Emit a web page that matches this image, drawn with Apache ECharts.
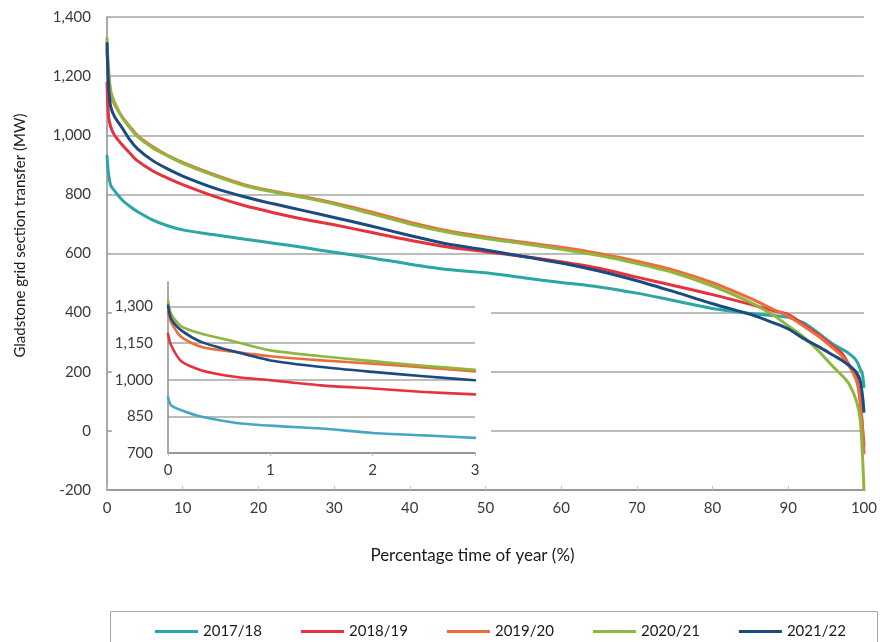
<!DOCTYPE html>
<html>
<head>
<meta charset="utf-8">
<script src="https://cdn.jsdelivr.net/npm/echarts@6/dist/echarts.min.js"></script>
<style>
html,body{margin:0;padding:0;background:#fff;}
#chart{width:880px;height:642px;}
</style>
</head>
<body>
<div id="chart"></div>
<script>
// ---- Data ----
const seriesNames = ['2017/18', '2018/19', '2019/20', '2020/21', '2021/22'];
const xTicksMain = [0, 10, 20, 30, 40, 50, 60, 70, 80, 90, 100];
const yTicksMain = [-200, 0, 200, 400, 600, 800, 1000, 1200, 1400];
const yTicksInset = [700, 850, 1000, 1150, 1300];
const xTicksInset = [0, 1, 2, 3];

// Main chart: percentage time of year (x) vs MW
const pctMain = [0, 0.2, 0.5, 1, 2, 3, 4, 6, 8, 10, 14, 18, 22, 26, 30, 35, 40, 45, 50, 55, 60, 65, 70, 75, 80, 85, 88, 90, 92, 94, 96, 97, 98, 99, 99.5, 99.8, 100];
const main2017 = [930, 870, 830, 812, 781, 760, 742, 714, 694, 680, 664, 649, 635, 620, 604, 585, 564, 546, 535, 518, 502, 487, 466, 440, 414, 397, 390, 384, 366, 330, 292, 278, 262, 238, 210, 190, 150];
const main2018 = [1178, 1065, 1028, 1000, 968, 940, 914, 880, 855, 833, 795, 763, 738, 716, 697, 671, 645, 622, 606, 590, 572, 550, 520, 491, 461, 428, 407, 393, 360, 325, 285, 265, 225, 181, 100, 15, -50];
const main2019 = [1290, 1200, 1135, 1105, 1062, 1030, 1000, 962, 932, 908, 868, 834, 811, 792, 771, 740, 706, 677, 656, 638, 621, 600, 574, 543, 501, 448, 411, 388, 355, 320, 278, 256, 222, 170, 110, 10, -75];
const main2020 = [1328, 1225, 1150, 1112, 1060, 1026, 996, 958, 930, 905, 865, 831, 808, 789, 767, 734, 700, 672, 651, 633, 614, 593, 566, 534, 490, 435, 392, 355, 318, 270, 215, 190, 160, 102, 40, -80, -200];
const main2021 = [1310, 1170, 1096, 1063, 1025, 985, 955, 915, 886, 862, 823, 793, 768, 745, 722, 692, 661, 632, 612, 590, 568, 541, 508, 470, 430, 394, 366, 345, 313, 285, 255, 240, 222, 198, 170, 120, 66];

// Inset: first 3% of the year
const pctInset = [0, 0.03, 0.13, 0.33, 0.67, 1, 1.5, 2, 2.5, 3];
const inset2017 = [929, 895, 875, 848, 823, 812, 800, 782, 772, 762];
const inset2018 = [1188, 1141, 1076, 1038, 1011, 998, 977, 964, 950, 940];
const inset2019 = [1277, 1236, 1175, 1134, 1113, 1096, 1079, 1066, 1050, 1034];
const inset2020 = [1324, 1270, 1218, 1188, 1154, 1120, 1096, 1076, 1057, 1041];
const inset2021 = [1304, 1250, 1202, 1154, 1113, 1079, 1052, 1032, 1014, 998];

const colorsMain = ['#2aa6a4', '#e5323d', '#ee6b3b', '#8fb63e', '#1b4a80'];
const colorsInset = ['#47a6c4', '#e5323d', '#ee6b3b', '#8fb63e', '#1b4a80'];

const mainData = [main2017, main2018, main2019, main2020, main2021];
const insetData = [inset2017, inset2018, inset2019, inset2020, inset2021];

const FONT = 'Lato, "Open Sans", sans-serif';
const fmt = v => v.toLocaleString('en-US');
const pairs = (xs, ys) => xs.map((x, i) => [x, ys[i]]);

const series = [];
seriesNames.forEach((n, i) => {
  series.push({
    name: n, type: 'line', xAxisIndex: 0, yAxisIndex: 0,
    data: pairs(pctMain, mainData[i]),
    showSymbol: false, smooth: 0.3,
    lineStyle: { width: 3, color: colorsMain[i], join: 'round', cap: 'round' },
    itemStyle: { color: colorsMain[i] },
    z: 2
  });
});
seriesNames.forEach((n, i) => {
  series.push({
    name: n, type: 'line', xAxisIndex: 1, yAxisIndex: 1,
    data: pairs(pctInset, insetData[i]),
    showSymbol: false, smooth: 0.25,
    lineStyle: { width: 2.6, color: colorsInset[i], join: 'round', cap: 'round' },
    itemStyle: { color: colorsInset[i] },
    z: 4
  });
});

const chart = echarts.init(document.getElementById('chart'), null, { renderer: 'canvas' });
chart.setOption({
  animation: false,
  backgroundColor: '#fff',
  textStyle: { fontFamily: FONT },
  grid: [
    { left: 107, right: 13, top: 17, bottom: 152, containLabel: false },
    { left: 168, right: 405, top: 282, bottom: 189, containLabel: false }
  ],
  graphic: {
    elements: [
      { type: 'rect', silent: true, z: 1,
        shape: { x: 112, y: 274, width: 379, height: 211 },
        style: { fill: '#ffffff' } },
      { type: 'rect', silent: true, z: 1,
        shape: { x: 110.5, y: 611.5, width: 767, height: 40 },
        style: { fill: 'none', stroke: '#a6a6a6', lineWidth: 1 } }
    ]
  },
  xAxis: [
    {
      type: 'value', gridIndex: 0, min: 0, max: 100, interval: 10,
      name: 'Percentage time of year (%)', nameLocation: 'middle', nameGap: 57,
      nameTextStyle: { fontSize: 17, color: '#1a1a1a', fontFamily: FONT, padding: [0, 26, 0, 0] },
      axisLine: { onZero: false, lineStyle: { color: '#8c8c8c', width: 1.5 } },
      axisTick: { show: true, inside: true, length: 4, lineStyle: { color: '#bfbfbf' } },
      axisLabel: { fontSize: 15, color: '#3a3a3a', margin: 11, fontFamily: FONT },
      splitLine: { show: false }
    },
    {
      type: 'value', gridIndex: 1, min: 0, max: 3, interval: 1, z: 3,
      axisLine: { onZero: false, lineStyle: { color: '#8c8c8c', width: 1.5 } },
      axisTick: { show: true, length: 3, lineStyle: { color: '#bfbfbf' } },
      axisLabel: { fontSize: 15, color: '#3a3a3a', margin: 10, fontFamily: FONT },
      splitLine: { show: false }
    }
  ],
  yAxis: [
    {
      type: 'value', gridIndex: 0, min: -200, max: 1400, interval: 200,
      name: 'Gladstone grid section transfer (MW)', nameLocation: 'middle', nameGap: 79, nameRotate: 90,
      nameTextStyle: { fontSize: 15, color: '#1a1a1a', fontFamily: FONT, padding: [0, 0, 0, 36] },
      axisLine: { show: true, lineStyle: { color: '#8c8c8c', width: 1.5 } },
      axisTick: { show: true, inside: true, length: 4, lineStyle: { color: '#a6a6a6' } },
      axisLabel: { fontSize: 15, color: '#3a3a3a', margin: 16, fontFamily: FONT, formatter: fmt },
      splitLine: { show: true, lineStyle: { color: '#a6a6a6', width: 1.5 } }
    },
    {
      type: 'value', gridIndex: 1, min: 700, max: 1400, interval: 150, z: 3,
      axisLine: { show: true, lineStyle: { color: '#8c8c8c', width: 1.5 } },
      axisTick: { show: false },
      axisLabel: { fontSize: 15, color: '#3a3a3a', margin: 15, fontFamily: FONT, formatter: fmt, showMaxLabel: false },
      splitLine: { show: true, showMaxLine: false, lineStyle: { color: '#a6a6a6', width: 1.5 } }
    }
  ],
  legend: {
    data: seriesNames,
    left: 150, top: 619,
    icon: 'rect', itemWidth: 43, itemHeight: 3, itemGap: 39,
    textStyle: { fontSize: 15, color: '#1a1a1a', fontFamily: FONT, width: 58 }
  },
  series: series
});
</script>
</body>
</html>
